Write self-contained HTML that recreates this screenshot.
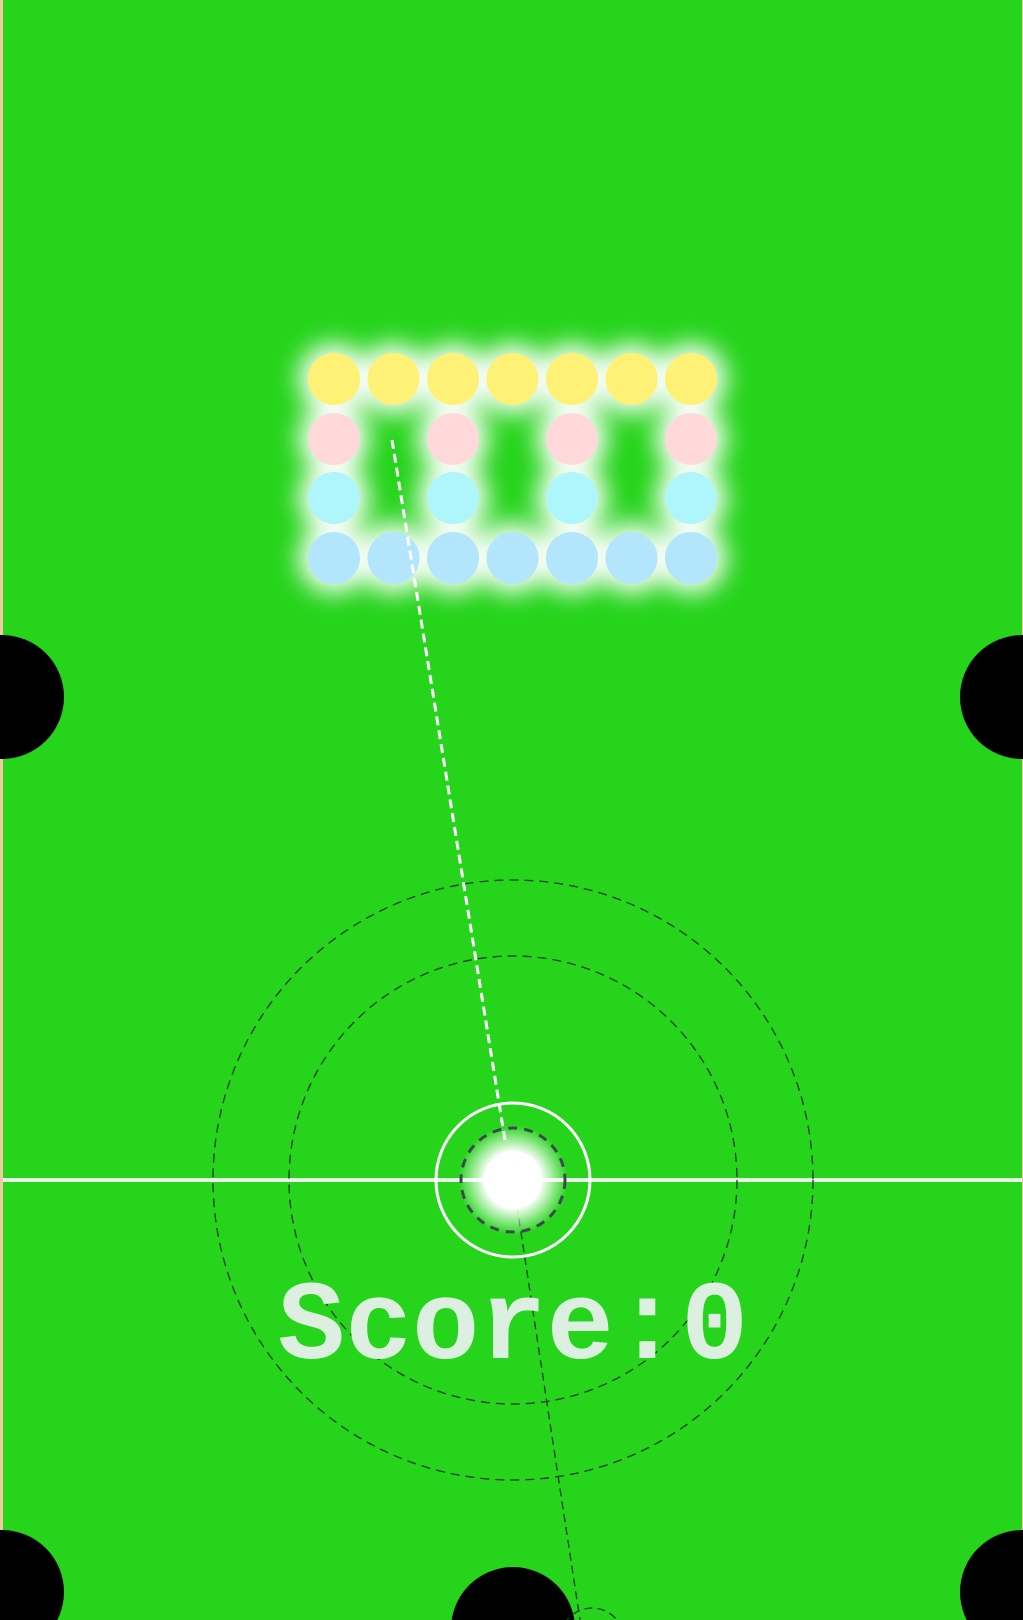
<!DOCTYPE html>
<html><head><meta charset="utf-8"><style>
html,body{margin:0;padding:0;background:#f3c9a0;}
svg{display:block;}
</style></head><body>
<svg id="game" width="1023" height="1620" viewBox="0 0 1023 1620" xmlns="http://www.w3.org/2000/svg">
<defs>
<filter id="glow" x="-30%" y="-30%" width="160%" height="160%"><feGaussianBlur stdDeviation="12"/></filter>
<radialGradient id="ballg" cx="0.5" cy="0.5" r="0.5">
<stop offset="0.5" stop-color="#ffffff"/><stop offset="1" stop-color="#ffffff" stop-opacity="0"/></radialGradient>
</defs>
<rect x="3" y="0" width="1019" height="1620" fill="#26d41c"/>
<g id="bricks"></g>
<g id="pockets"></g>
<line x1="3" y1="1180" x2="1022" y2="1180" stroke="#e8f5e6" stroke-width="4"/>
<g id="rings"></g>
<line x1="392" y1="440" x2="505" y2="1140" stroke="#ffffff" stroke-width="3" stroke-dasharray="9,5"/>
<line x1="513" y1="1180" x2="580" y2="1620" stroke="#1a3a1a" stroke-width="1.3" stroke-dasharray="8,5"/>
<circle cx="592" cy="1640" r="32" fill="none" stroke="#1a3a1a" stroke-width="1.3" stroke-dasharray="8,5"/>
<circle cx="513" cy="1180" r="55" fill="url(#ballg)"/>
<circle cx="513" cy="1180" r="29" fill="#ffffff"/>
<circle cx="513" cy="1180" r="52" fill="none" stroke="#3c4a50" stroke-width="3" stroke-dasharray="9,7"/>
<circle cx="513" cy="1180" r="77" fill="none" stroke="#ffffff" stroke-width="3"/>
<text x="513" y="1358" text-anchor="middle" font-family="'Courier New', 'Liberation Mono', monospace" font-weight="bold" font-size="112" fill="#dcefe0">Score:0</text>
</svg>
<script>
const brickCols = [334, 393.5, 453, 512.5, 572, 631.5, 691];
const brickRows = [379, 439, 498, 558];
const brickColors = ["#fff176", "#ffd9da", "#aef6fb", "#b3e5fc"];
const brickGrid = [
  [1,1,1,1,1,1,1],
  [1,0,1,0,1,0,1],
  [1,0,1,0,1,0,1],
  [1,1,1,1,1,1,1]
];
const pockets = [[2,697],[1022,697],[2,1592],[1022,1592],[513,1629]];
const rings = [224, 300];
const NS = "http://www.w3.org/2000/svg";
const bg = document.getElementById("bricks");
const glow = document.createElementNS(NS, "g");
glow.setAttribute("filter", "url(#glow)");
glow.setAttribute("opacity", "0.95");


bg.appendChild(glow);
const top_ = document.createElementNS(NS, "g");
bg.appendChild(top_);
brickRows.forEach((y, r) => {
  brickCols.forEach((x, c) => {
    if (!brickGrid[r][c]) return;
    const g = document.createElementNS(NS, "circle");
    g.setAttribute("cx", x); g.setAttribute("cy", y); g.setAttribute("r", 36);
    g.setAttribute("fill", "#ffffff");
    
    
    glow.appendChild(g);
    const b = document.createElementNS(NS, "circle");
    b.setAttribute("cx", x); b.setAttribute("cy", y); b.setAttribute("r", 26);
    b.setAttribute("fill", brickColors[r]);
    
    
    top_.appendChild(b);
  });
});
const pg = document.getElementById("pockets");
pockets.forEach(p => {
  const c = document.createElementNS(NS, "circle");
  c.setAttribute("cx", p[0]); c.setAttribute("cy", p[1]); c.setAttribute("r", 62);
  c.setAttribute("fill", "#000000");
  
  
  pg.appendChild(c);
});
const rg = document.getElementById("rings");
rings.forEach(r => {
  const c = document.createElementNS(NS, "circle");
  c.setAttribute("cx", 513); c.setAttribute("cy", 1180); c.setAttribute("r", r);
  c.setAttribute("fill", "none"); c.setAttribute("stroke", "#1a3a1a");
  c.setAttribute("stroke-width", "1.3"); c.setAttribute("stroke-dasharray", "9,6");
  
  
  rg.appendChild(c);
});
</script>
</body></html>
